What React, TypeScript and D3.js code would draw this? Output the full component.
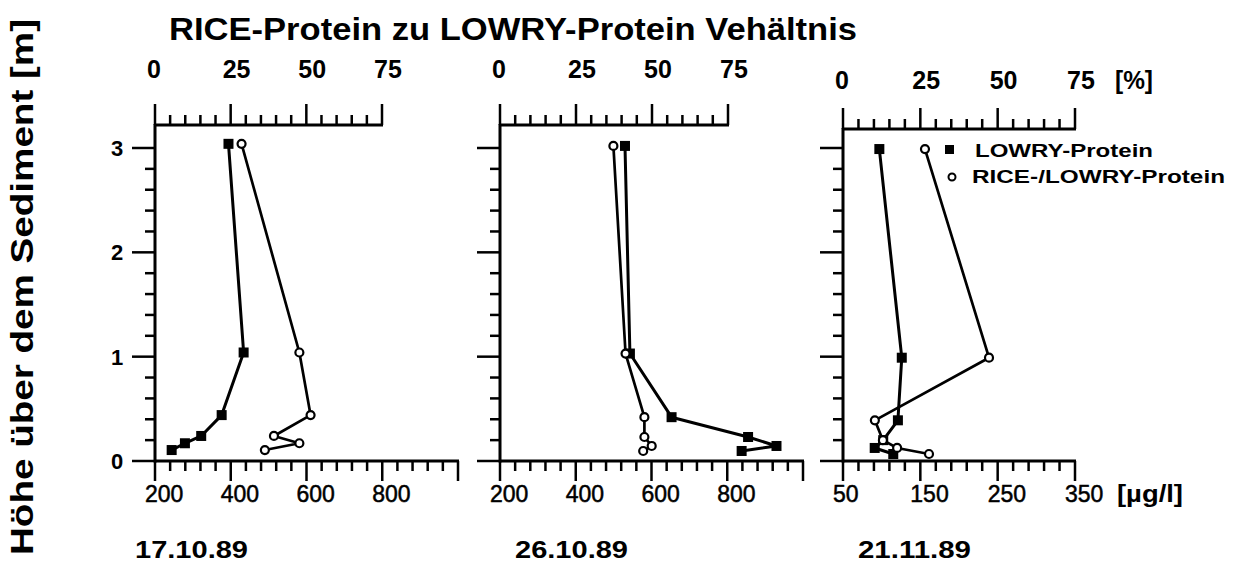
import React from 'react';
import * as d3 from 'd3';

// ---- data ----
const title = 'RICE-Protein zu LOWRY-Protein Vehältnis';
const yTitle = 'Höhe über dem Sediment [m]';
const dates = ['17.10.89', '26.10.89', '21.11.89'];
const legendLabels = ['LOWRY-Protein', 'RICE-/LOWRY-Protein'];

const heights1 = [3.04, 1.04, 0.44, 0.24, 0.17, 0.105];
const lowry1 = [394, 434, 376, 322, 279, 244];
const ratio1 = [28.6, 47.7, 51.4, 39.3, 47.7, 36.3];

const heights2 = [3.02, 1.03, 0.42, 0.23, 0.144, 0.096];
const lowry2 = [530, 543, 653, 855, 930, 838];
const ratio2 = [37.3, 41.3, 47.5, 47.5, 49.9, 47.1];

const heights3 = [2.99, 0.99, 0.39, 0.2, 0.125, 0.067];
const lowry3 = [97, 126, 121, 102, 91, 115];
const ratio3 = [26.5, 47.2, 10.3, 12.9, 17.5, 27.8];

const yTickLabels = [0, 1, 2, 3];
const pctTickLabels = [0, 25, 50, 75];
const lowryTicksA = [200, 400, 600, 800, 1000];
const lowryLabelsA = [200, 400, 600, 800];
const lowryTicksB = [50, 150, 250, 350];
const lowryLabelsB = [50, 150, 250, 350];

// ---- layout ----
const FONT = '"Liberation Sans", Arial, sans-serif';
const Y0 = 461;
const Y3 = 148;

const panels = [
  { date: dates[0], h: heights1, lowry: lowry1, ratio: ratio1, dom: [200, 1000], major: lowryTicksA, labels: lowryLabelsA, minorStep: 40,
    x0: 155, xEnd: 458, pEnd: 382, topY: 125, topLabelY: 78, dateX: 135 },
  { date: dates[1], h: heights2, lowry: lowry2, ratio: ratio2, dom: [200, 1000], major: lowryTicksA, labels: lowryLabelsA, minorStep: 40,
    x0: 500, xEnd: 803, pEnd: 728, topY: 125, topLabelY: 78, dateX: 515 },
  { date: dates[2], h: heights3, lowry: lowry3, ratio: ratio3, dom: [50, 350], major: lowryTicksB, labels: lowryLabelsB, minorStep: 20,
    x0: 843, xEnd: 1075, pEnd: 1075, topY: 129, topLabelY: 89, dateX: 858 },
];

const yScale = d3.scaleLinear().domain([0, 3]).range([Y0, Y3]);

function Panel({ p, first }: { p: any; first: boolean }) {
  const xs = d3.scaleLinear().domain(p.dom).range([p.x0, p.xEnd]);
  const ps = d3.scaleLinear().domain([0, 75]).range([p.x0, p.pEnd]);
  const yTicks = d3.range(0, 3.0001, 0.2);
  const bTicks = d3.range(p.dom[0], p.dom[1] + 0.001, p.minorStep);
  const tTicks = d3.range(0, 75.001, 5);
  const isMaj = (v: number, step: number) => Math.abs(v / step - Math.round(v / step)) < 1e-6;
  const lowryPts = p.lowry.map((v: number, i: number) => [xs(v), yScale(p.h[i])] as [number, number]);
  const ratioPts = p.ratio.map((v: number, i: number) => [ps(v), yScale(p.h[i])] as [number, number]);
  const line = d3.line();
  const majStepB = p.major[1] - p.major[0];
  return (
    <g>
      {/* y axis */}
      <line x1={p.x0} x2={p.x0} y1={p.topY - 1} y2={Y0 + 1.5} stroke="#000" strokeWidth={3} />
      {yTicks.map((v, i) => {
        const maj = isMaj(v, 1);
        return <line key={'y' + i} x1={p.x0 - (maj ? 23 : 10)} x2={p.x0} y1={yScale(v)} y2={yScale(v)} stroke="#000" strokeWidth={2.5} />;
      })}
      {first && yTickLabels.map((v) => (
        <text key={'yl' + v} x={117} y={yScale(v) + 8} textAnchor="middle" fontFamily={FONT} fontWeight="bold" fontSize={22}>{v}</text>
      ))}
      {/* bottom axis */}
      <line x1={p.x0} x2={p.xEnd + 1} y1={Y0} y2={Y0} stroke="#000" strokeWidth={3} />
      {bTicks.map((v: number, i: number) => {
        const maj = isMaj(v - p.dom[0], majStepB);
        return <line key={'b' + i} x1={xs(v)} x2={xs(v)} y1={Y0} y2={Y0 + (maj ? 20 : 10)} stroke="#000" strokeWidth={2.5} />;
      })}
      {p.labels.map((v: number) => (
        <text key={'bl' + v} x={xs(v) - 10} y={502} fontFamily={FONT} fontSize={23} stroke="#000" strokeWidth={0.5}>{v}</text>
      ))}
      {/* top axis */}
      <line x1={p.x0} x2={p.pEnd + 1} y1={p.topY} y2={p.topY} stroke="#000" strokeWidth={3} />
      {tTicks.map((v, i) => {
        const maj = isMaj(v, 25);
        return <line key={'t' + i} x1={ps(v)} x2={ps(v)} y1={p.topY} y2={p.topY - (maj ? 21 : 10)} stroke="#000" strokeWidth={2.5} />;
      })}
      {pctTickLabels.map((v) => (
        <text key={'tl' + v} x={ps(v) - 8} y={p.topLabelY} fontFamily={FONT} fontWeight="bold" fontSize={25}>{v}</text>
      ))}
      {/* series */}
      <path d={line(lowryPts) || ''} fill="none" stroke="#000" strokeWidth={3} strokeLinejoin="round" />
      <path d={line(ratioPts) || ''} fill="none" stroke="#000" strokeWidth={2.7} strokeLinejoin="round" />
      {lowryPts.map((pt: [number, number], i: number) => (
        <rect key={'s' + i} x={pt[0] - 5} y={pt[1] - 5} width={10} height={10} fill="#000" />
      ))}
      {ratioPts.map((pt: [number, number], i: number) => (
        <circle key={'c' + i} cx={pt[0]} cy={pt[1]} r={4} fill="#fff" stroke="#000" strokeWidth={2.2} />
      ))}
      {/* date */}
      <text x={p.dateX} y={558} fontFamily={FONT} fontWeight="bold" fontSize={24} textLength={113} lengthAdjust="spacingAndGlyphs">{p.date}</text>
    </g>
  );
}

export default function App() {
  return (
    <svg width={1233} height={563} style={{ position: 'absolute', left: 0, top: 0, background: '#fff' }}>
      <rect x={0} y={0} width={1233} height={563} fill="#fff" />
      <text x={169} y={40} fontFamily={FONT} fontWeight="bold" fontSize={31} textLength={688} lengthAdjust="spacingAndGlyphs">{title}</text>
      <text transform="translate(33,287) rotate(-90)" textAnchor="middle" fontFamily={FONT} fontWeight="bold" fontSize={31} textLength={536} lengthAdjust="spacingAndGlyphs">{yTitle}</text>
      {panels.map((p, i) => <Panel key={i} p={p} first={i === 0} />)}
      <text x={1115} y={89} fontFamily={FONT} fontWeight="bold" fontSize={25} textLength={38} lengthAdjust="spacingAndGlyphs">[%]</text>
      <text x={1117} y={502} fontFamily={FONT} fontWeight="bold" fontSize={23} textLength={66} lengthAdjust="spacingAndGlyphs">[µg/l]</text>
      {/* legend */}
      <rect x={945} y={145} width={9} height={9} fill="#000" />
      <text x={975} y={157} fontFamily={FONT} fontWeight="bold" fontSize={19} textLength={178} lengthAdjust="spacingAndGlyphs">{legendLabels[0]}</text>
      <circle cx={952} cy={177} r={3.5} fill="#fff" stroke="#000" strokeWidth={2} />
      <text x={972} y={183} fontFamily={FONT} fontWeight="bold" fontSize={19} textLength={253} lengthAdjust="spacingAndGlyphs">{legendLabels[1]}</text>
    </svg>
  );
}
